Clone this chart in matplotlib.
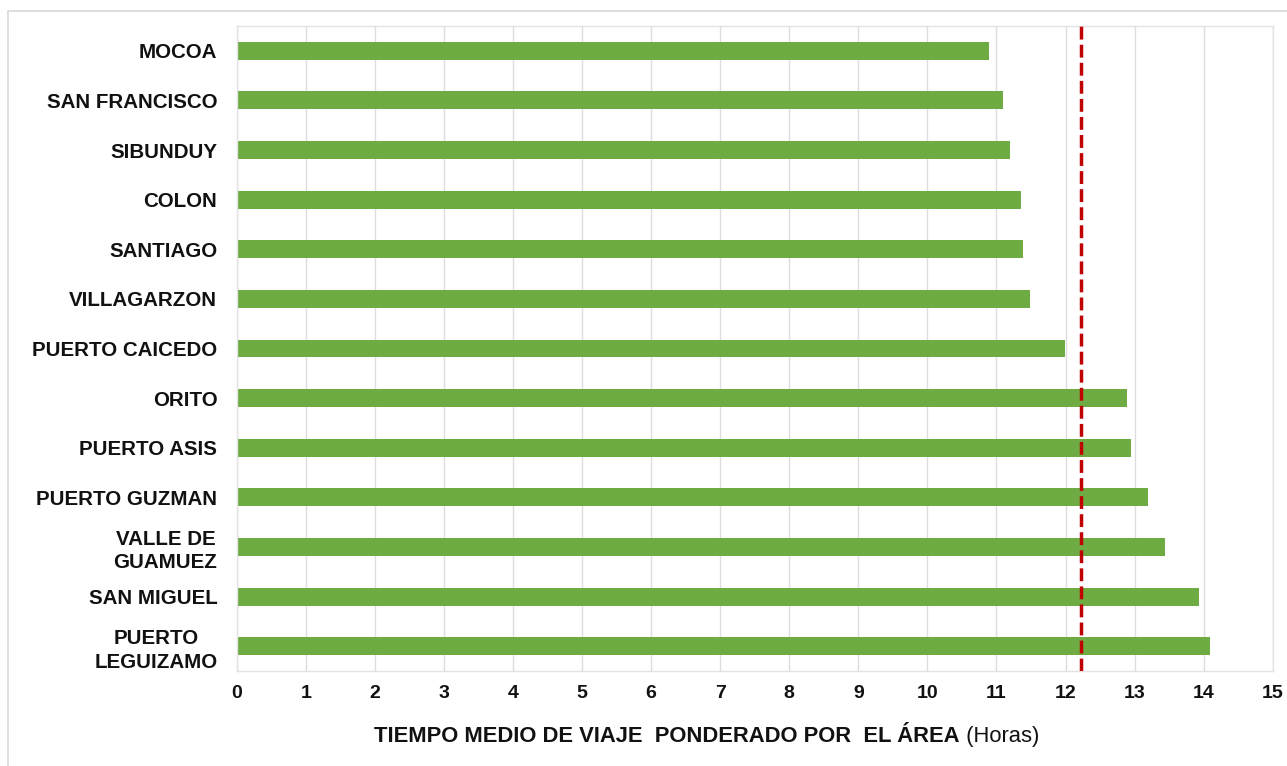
import matplotlib
matplotlib.use("Agg")
import matplotlib.pyplot as plt
from matplotlib.patches import Rectangle

categories = ["MOCOA", "SAN FRANCISCO", "SIBUNDUY", "COLON", "SANTIAGO", "VILLAGARZON",
              "PUERTO CAICEDO", "ORITO", "PUERTO ASIS", "PUERTO GUZMAN",
              "VALLE DE\nGUAMUEZ", "SAN MIGUEL", "PUERTO\nLEGUIZAMO"]
values = [10.89, 11.09, 11.19, 11.35, 11.39, 11.49, 11.99, 12.89, 12.95, 13.20, 13.44, 13.93, 14.09]
mean_value = 12.22
xticks = list(range(0, 16))
xlabel_bold = "TIEMPO MEDIO DE VIAJE  PONDERADO POR  EL ÁREA"
xlabel_normal = " (Horas)"

plt.rcParams['font.family'] = ['Liberation Sans', 'DejaVu Sans']

W, H = 1287, 766
fig = plt.figure(figsize=(W / 100, H / 100), dpi=100)
fig.patch.set_facecolor('white')

# outer chart frame (cropped on right/bottom)
fig.patches.append(Rectangle((8 / W, -0.05), 1.2, (H - 11) / H + 0.05, transform=fig.transFigure,
                             fill=False, edgecolor='#D9D9D9', linewidth=1.2, zorder=0))

ax = fig.add_axes([236.7 / W, 95 / H, (1272.7 - 236.7) / W, (671 - 26) / H])

ypos = list(range(len(categories)))
ax.barh(ypos, values, height=0.36, color='#6EAB43', zorder=2)
ax.axvline(mean_value, color='#C00000', linewidth=2.5, dashes=(3.7, 1.5),
           dash_capstyle='butt', zorder=3)

ax.set_xlim(0, 15)
ax.set_ylim(len(categories) - 0.5, -0.5)
ax.set_yticks(ypos)
ax.set_yticklabels(categories, fontsize=14.8, fontweight='bold', color='#111111',
                   linespacing=1.3, multialignment='center')
ax.set_xticks(xticks)
ax.set_xticklabels([str(t) for t in xticks], fontsize=14, fontweight='bold', color='#111111')
ax.tick_params(axis='y', length=0, pad=14)
ax.tick_params(axis='x', length=0, pad=10)
ax.grid(axis='x', color='#DDDDDD', linewidth=1.0, zorder=0)
ax.set_axisbelow(True)
for s in ax.spines.values():
    s.set_color('#E3E3E3')
    s.set_linewidth(1.0)

y_base = 1 - 742 / H
t1 = fig.text(374 / W, y_base, xlabel_bold, fontsize=15.8, fontweight='bold',
              color='#111111', ha='left', va='baseline')
fig.canvas.draw()
x1 = t1.get_window_extent(renderer=fig.canvas.get_renderer()).x1
fig.text(x1 / W, y_base, xlabel_normal, fontsize=15.8, color='#111111',
         ha='left', va='baseline')

fig.savefig("out.png", dpi=100)
